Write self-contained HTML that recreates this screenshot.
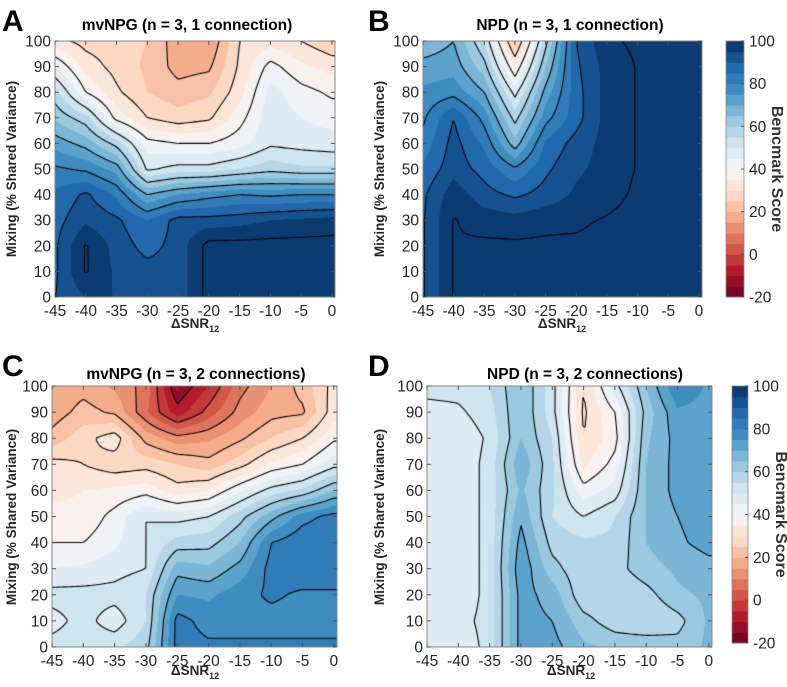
<!DOCTYPE html>
<html><head><meta charset="utf-8">
<style>
body{margin:0;background:#fff;width:787px;height:687px;overflow:hidden;position:relative;font-family:"Liberation Sans",Arial,sans-serif}
canvas{position:absolute}
svg{position:absolute;left:0;top:0}
</style></head>
<body>
<canvas id="cA"></canvas>
<canvas id="cB"></canvas>
<canvas id="cC"></canvas>
<canvas id="cD"></canvas>
<svg id="ov" width="787" height="687"></svg>
<script>
// x categories (ΔSNR12) and y (mixing)
const xVals=[-45,-40,-35,-30,-25,-20,-15,-10,-5,0];
const yVals=[100,90,80,70,60,50,40,30,20,10,0];
const xTicks=[-45,-40,-35,-30,-25,-20,-15,-10,-5,0];
const yTicks=[0,10,20,30,40,50,60,70,80,90,100];
const cbTicks=[-20,0,20,40,60,80,100];
const contourLevels=[-10,0,10,20,30,40,50,60,70,80,90,100];
// rows: y=100 down to y=0
const panelAValues=[
[32,28,27,25,17,15,30,33,30,26],
[45,33,28,24,18,19,31,42,36,33],
[57,40,31,25,22,24,33,47,42,39],
[64,57,38,30,27,29,38,48,45,43],
[73,68,58,42,40,40,43,49,48,47],
[81,79,73,49,52,52,55,58,56,56],
[86,91,84,70,75,78,80,79,80,80],
[88,94,91,85,92,92,93,95,96,97],
[89,100.5,93,88,92,102,102,102,102,102],
[89,100.5,94,92,92,102,102,102,102,102],
[90,95,95,94,92,102,102,102,102,102]];
const panelBValues=[
[66,70,55,22,58,90,99,101,102,102],
[72,73,62,35,65,89,97,100.3,102,102],
[76,78,70,48,72,88,97,100.3,102,102],
[79,90,78,58,78,88,97,100.3,102,102],
[82,92,84,67,86,92,97,100.3,102,102],
[86,93,88,81,89,94,97,100.3,102,102],
[89,98,92,89,92,96,98,101,102,102],
[89.5,100.3,98,97,98.5,99,100.5,102,102,102],
[89.5,100.3,101,101,101,101,102,102,102,102],
[89.5,100.3,101,101,101,101,102,102,102,102],
[89.5,100.3,101,101,101,101,102,102,102,102]];
const panelCValues=[
[16,18,14,8,-15,-5,8,15,22,32],
[17,22,19,6,-8,2,12,18,19,33],
[22,28,33,18,12,14,19,25,30,39],
[32,30,27,28,25,22,28,36,40,48],
[34,35,36,38,32,35,44,52,56,65],
[36,36,42,50,48,50,58,68,78,82],
[40,40,44,50,57,58,65,80,84,84],
[45,46,48,50,68,66,72,82,84,84],
[52,52,52,55,75,74,78,81,79,79],
[48,52,47,55,82,78,78,78,78,78],
[52,53,54,58,82,81,81,81,81,81]];
const panelDValues=[
[52,52,55,65,52,30,48,65,80,74],
[48,49,53,65,52,29,40,62,74,73],
[46,46,51,65,55,30,38,64,72,73],
[46,46,52,69,56,34,42,65,72,73],
[46,46,52,66,56,42,47,65,72,73],
[46,46,52,69,55,50,55,65,70,73],
[46,46,52,72,58,56,56,65,69,72],
[46,46,52,74,62,56,58,63,66,68],
[46,46,52,72,68,56,55,58,64,66],
[46,48,52,72,70,62,57,55,58,66],
[46,46,52,72,72,66,64,64,62,66]];

const stops=[[0,[103,0,31]],[.1,[178,24,43]],[.2,[214,96,77]],[.3,[244,165,130]],[.4,[253,219,199]],[.5,[247,247,247]],[.6,[209,229,240]],[.7,[146,197,222]],[.8,[67,147,195]],[.9,[33,102,172]],[1,[5,48,97]]];
function cmap(t){t=Math.max(0,Math.min(1,t));for(let i=1;i<stops.length;i++){if(t<=stops[i][0]){const a=stops[i-1],b=stops[i];const f=(t-a[0])/(b[0]-a[0]);return a[1].map((v,k)=>Math.round(v+(b[1][k]-v)*f));}}return stops[stops.length-1][1];}
const bandColors=[];for(let b=0;b<24;b++){bandColors.push(cmap((5*b+2.5)/120));}
const XMIN=-45,XMAX=0.5;
function sample(g,x,y){
  const xi=Math.max(0,Math.min(45,x+45))/5; let i=Math.min(8,Math.floor(xi)); const fx=xi-i;
  const yi=Math.max(0,Math.min(100,100-y))/10; let j=Math.min(9,Math.floor(yi)); const fy=yi-j;
  const a=g[j][i],b=g[j][i+1],c=g[j+1][i],d=g[j+1][i+1];
  return a*(1-fx)*(1-fy)+b*fx*(1-fy)+c*(1-fx)*fy+d*fx*fy;
}
const NS='http://www.w3.org/2000/svg';
const ov=document.getElementById('ov');
function el(tag,attrs,txt){const e=document.createElementNS(NS,tag);for(const k in attrs)e.setAttribute(k,attrs[k]);if(txt!==undefined)e.textContent=txt;ov.appendChild(e);return e;}

function drawPanel(id,g,L,T,R,B,name){
  const W=R-L,H=B-T;const cv=document.getElementById(id);
  cv.width=W;cv.height=H;cv.style.left=L+'px';cv.style.top=T+'px';
  const ctx=cv.getContext('2d');const img=ctx.createImageData(W,H);
  const xf=px=>XMIN+px/W*(XMAX-XMIN), yf=py=>100-py/H*100;
  for(let py=0;py<H;py++)for(let px=0;px<W;px++){
    const v=sample(g,xf(px+.5),yf(py+.5));let b=Math.floor((v+20)/5);b=Math.max(0,Math.min(23,b));
    const c=bandColors[b];const o=(py*W+px)*4;img.data[o]=c[0];img.data[o+1]=c[1];img.data[o+2]=c[2];img.data[o+3]=255;}
  ctx.putImageData(img,0,0);
  ctx.strokeStyle='#000';ctx.lineWidth=1.1;ctx.beginPath();
  const st=2;
  for(let py=0;py<H;py+=st)for(let px=0;px<W;px+=st){
    const x0=px,x1=Math.min(W,px+st),y0=py,y1=Math.min(H,py+st);
    const a=sample(g,xf(x0),yf(y0)),b=sample(g,xf(x1),yf(y0)),c=sample(g,xf(x1),yf(y1)),d=sample(g,xf(x0),yf(y1));
    for(const l of contourLevels){
      const pts=[];
      if((a-l)*(b-l)<0)pts.push([x0+(l-a)/(b-a)*(x1-x0),y0]);
      if((b-l)*(c-l)<0)pts.push([x1,y0+(l-b)/(c-b)*(y1-y0)]);
      if((d-l)*(c-l)<0)pts.push([x0+(l-d)/(c-d)*(x1-x0),y1]);
      if((a-l)*(d-l)<0)pts.push([x0,y0+(l-a)/(d-a)*(y1-y0)]);
      for(let k=0;k+1<pts.length;k+=2){ctx.moveTo(pts[k][0],pts[k][1]);ctx.lineTo(pts[k+1][0],pts[k+1][1]);}
    }
  }
  ctx.stroke();
  const box=el('rect',{x:L,y:T,width:W,height:H,fill:'none',stroke:'#888','stroke-width':1});
  
  const sx=v=>L+(v-XMIN)/(XMAX-XMIN)*W, sy=v=>B-v/100*H;
  xTicks.forEach(t=>{const x=sx(t);
    const tk=el('path',{d:`M${x},${B}v-4M${x},${T}v4`,stroke:'#555','stroke-width':1});
    
    const tx=el('text',{x:x,y:B+19,'text-anchor':'middle','font-size':15.5,fill:'#262626'},String(t));
    });
  yTicks.forEach(t=>{const y=sy(t);
    const tk=el('path',{d:`M${L},${y}h4M${R},${y}h-4`,stroke:'#555','stroke-width':1});
    
    const tx=el('text',{x:L-4,y:y+5.5,'text-anchor':'end','font-size':15.5,fill:'#262626'},String(t));
    });
}
function colorbar(L,T,R,B,labX,name){
  const H=B-T;
  for(let b=0;b<24;b++){const c=bandColors[b];
    const r=el('rect',{x:L,y:B-(b+1)*H/24,width:R-L,height:H/24+0.5,fill:`rgb(${c})`});
    }
  el('rect',{x:L,y:T,width:R-L,height:H,fill:'none',stroke:'#888','stroke-width':0.8});
  cbTicks.forEach(t=>{const y=B-(t+20)/120*H;
    el('path',{d:`M${R},${y}h-3`,stroke:'#555'});
    const tx=el('text',{x:R+5,y:y+5.5,'font-size':15.5,fill:'#262626'},String(t));
    });
  const lab=el('text',{x:labX,y:(T+B)/2,'text-anchor':'middle','font-size':16,'font-weight':'bold',fill:'#333',transform:`rotate(90 ${labX} ${(T+B)/2})`},'Bencmark Score');
  
}
function texts(letter,lx,ly,title,tx,ty,xlx,xly,ylx,yly,name){
  const a=el('text',{x:lx,y:ly,'font-size':30,'font-weight':'bold',fill:'#000'},letter);
  
  const t=el('text',{x:tx,y:ty,'text-anchor':'middle','font-size':15.5,'font-weight':'bold',fill:'#000'},title);
  
  const x=el('text',{x:xlx,y:xly,'text-anchor':'middle','font-size':13.5,'font-weight':'bold',fill:'#262626'});
  x.innerHTML='ΔSNR<tspan font-size="9" dy="4">12</tspan>';
  
  const y=el('text',{x:ylx,y:yly,'text-anchor':'middle','font-size':13.5,'font-weight':'bold',fill:'#262626',transform:`rotate(-90 ${ylx} ${yly})`},'Mixing (% Shared Variance)');
  
}
drawPanel('cA',panelAValues,55,41,335,297,'panel-a');
drawPanel('cB',panelBValues,423,41,702,297,'panel-b');
drawPanel('cC',panelCValues,52,386,337,647,'panel-c');
drawPanel('cD',panelDValues,427,386,712,647,'panel-d');
colorbar(726,41,744,297,772,'colorbar-top');
colorbar(732,386,748,643,776,'colorbar-bottom');
texts('A',2,31,'mvNPG (n = 3, 1 connection)',187,30,195,328,16,169,'panel-a');
texts('B',368,31,'NPD (n = 3, 1 connection)',570,30,562,328,384,169,'panel-b');
texts('C',2,376,'mvNPG (n = 3, 2 connections)',196,379,195,675,16,517,'panel-c');
texts('D',368,376,'NPD (n = 3, 2 connections)',585,379,571,675,384,517,'panel-d');
</script>
</body></html>
